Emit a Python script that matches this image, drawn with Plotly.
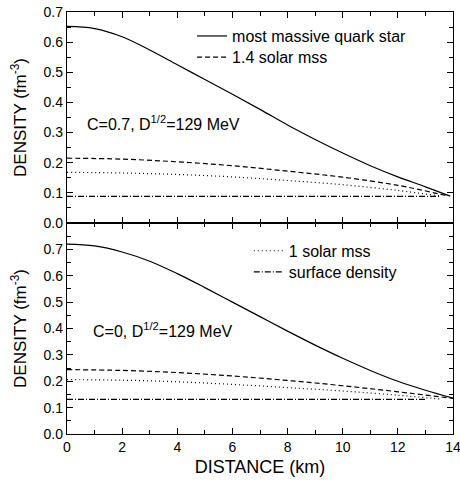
import plotly.graph_objects as go
from plotly.subplots import make_subplots

# ---------- data ----------
# top panel: C=0.7
top_solid_x = [0, 1, 2, 3, 4, 5, 6, 7, 8, 9, 10, 11, 12, 13, 13.9]
top_solid_y = [0.652, 0.645, 0.618, 0.574, 0.525, 0.476, 0.427, 0.377, 0.325, 0.277, 0.232, 0.19, 0.153, 0.12, 0.089]
top_dash_x = [0, 2, 4, 6, 8, 10, 12, 13.8]
top_dash_y = [0.215, 0.212, 0.203, 0.19, 0.172, 0.152, 0.125, 0.09]
top_dot_x = [0, 2, 4, 6, 8, 10, 12, 13.5]
top_dot_y = [0.168, 0.166, 0.161, 0.153, 0.141, 0.127, 0.108, 0.09]
top_surf_x = [0, 13.5]
top_surf_y = [0.088, 0.088]

# bottom panel: C=0
bot_solid_x = [0, 1, 2, 3, 4, 5, 6, 7, 8, 9, 10, 11, 12, 13, 14]
bot_solid_y = [0.72, 0.713, 0.69, 0.655, 0.608, 0.555, 0.5, 0.445, 0.39, 0.337, 0.287, 0.241, 0.2, 0.166, 0.136]
bot_dash_x = [0, 2, 4, 6, 8, 10, 12, 14]
bot_dash_y = [0.244, 0.241, 0.233, 0.22, 0.203, 0.183, 0.16, 0.135]
bot_dot_x = [0, 2, 4, 6, 8, 10, 12, 13.6]
bot_dot_y = [0.206, 0.204, 0.198, 0.188, 0.176, 0.163, 0.147, 0.132]
bot_surf_x = [0, 13.0]
bot_surf_y = [0.131, 0.131]

series_names = ["most massive quark star", "1.4 solar mss", "1 solar mss", "surface density"]
x_ticks = [0, 2, 4, 6, 8, 10, 12, 14]
top_yticks = [0.0, 0.1, 0.2, 0.3, 0.4, 0.5, 0.6, 0.7]
bot_yticks = [0.0, 0.1, 0.2, 0.3, 0.4, 0.5, 0.6, 0.7, 0.8]

FONT = "Liberation Sans, Arial, sans-serif"
DASH = "5px,3px"
DOT = "1px,3px"
DASHDOT = "6px,2px,1px,2px"

fig = make_subplots(rows=2, cols=1, shared_xaxes=True, vertical_spacing=0)

def add(x, y, name, dash, row, legend, show):
    fig.add_trace(go.Scatter(x=x, y=y, mode="lines", name=name,
                             line=dict(color="black", width=1.2, dash=dash, shape="spline"),
                             legend=legend, showlegend=show), row=row, col=1)

add(top_solid_x, top_solid_y, series_names[0], "solid", 1, "legend", True)
add(top_dash_x, top_dash_y, series_names[1], DASH, 1, "legend2", True)
add(top_dot_x, top_dot_y, series_names[2], DOT, 1, "legend3", False)
add(top_surf_x, top_surf_y, series_names[3], DASHDOT, 1, "legend4", False)

add(bot_solid_x, bot_solid_y, series_names[0], "solid", 2, "legend", False)
add(bot_dash_x, bot_dash_y, series_names[1], DASH, 2, "legend2", False)
add(bot_dot_x, bot_dot_y, series_names[2], DOT, 2, "legend3", True)
add(bot_surf_x, bot_surf_y, series_names[3], DASHDOT, 2, "legend4", True)

axis_common = dict(showline=True, linecolor="black", linewidth=1.3, mirror="allticks",
                   ticks="inside", ticklen=6, tickwidth=1.2, tickcolor="black",
                   showgrid=False, zeroline=False, automargin=False,
                   ticklabeloverflow="allow",
                   tickfont=dict(family=FONT, size=14, color="black"))

fig.update_xaxes(**axis_common, range=[0, 14], tickvals=x_ticks,
                 minor=dict(ticks="inside", dtick=1, ticklen=4, tickwidth=1.0, tickcolor="black"))
fig.update_xaxes(showticklabels=False, row=1, col=1)
fig.update_xaxes(title=dict(text="DISTANCE (km)", font=dict(family=FONT, size=18, color="black"), standoff=6),
                 row=2, col=1)

ytitle = dict(text="DENSITY (fm<sup>-3</sup>)", font=dict(family=FONT, size=17, color="black"), standoff=12)
fig.update_yaxes(**axis_common, range=[0, 0.7], tickvals=top_yticks,
                 ticktext=[f"{v:.1f}" for v in top_yticks],
                 minor=dict(ticks="inside", dtick=0.05, ticklen=4, tickwidth=1.0, tickcolor="black"),
                 title=ytitle, row=1, col=1)
fig.update_yaxes(**axis_common, range=[0, 0.8], tickvals=bot_yticks,
                 ticktext=[f"{v:.1f}" for v in bot_yticks[:-1]] + [""],
                 minor=dict(ticks="inside", dtick=0.05, ticklen=4, tickwidth=1.0, tickcolor="black"),
                 title=ytitle, row=2, col=1)

fig.add_annotation(x=0.65, y=0.332, xref="x", yref="y", xanchor="left", yanchor="middle",
                   text="C=0.7, D<sup>1/2</sup>=129 MeV", showarrow=False,
                   font=dict(family=FONT, size=16, color="black"))
fig.add_annotation(x=0.87, y=0.394, xref="x2", yref="y2", xanchor="left", yanchor="middle",
                   text="C=0, D<sup>1/2</sup>=129 MeV", showarrow=False,
                   font=dict(family=FONT, size=16, color="black"))

legend_style = dict(bgcolor="rgba(0,0,0,0)", borderwidth=0, xanchor="left", yanchor="middle",
                    font=dict(family=FONT, size=16, color="black"), itemwidth=30)
fig.update_layout(
    width=460, height=491,
    margin=dict(l=67, r=7, t=12, b=57),
    paper_bgcolor="white", plot_bgcolor="white",
    hovermode=False,
    legend=dict(**legend_style, x=0.324, y=0.943),
    legend2=dict(**legend_style, x=0.324, y=0.893),
    legend3=dict(**legend_style, x=0.471, y=0.434),
    legend4=dict(**legend_style, x=0.471, y=0.384),
)

# remove the browser's default 8px body margin so the figure sits at the page origin
fig.write_html("out.html",
               config={"displayModeBar": False},
               post_script="document.body.style.margin='0';document.body.style.overflow='hidden';")
